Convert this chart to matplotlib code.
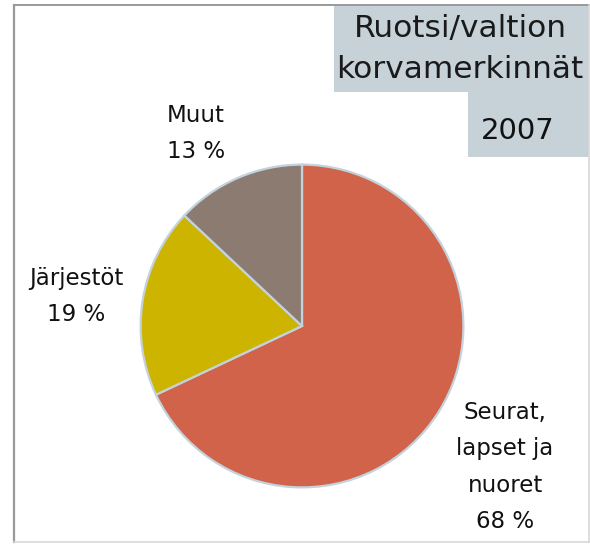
import matplotlib
matplotlib.use("Agg")
import matplotlib.pyplot as plt
from matplotlib.patches import Rectangle
from matplotlib.lines import Line2D

# data
categories = ["Seurat,\nlapset ja\nnuoret", "Järjestöt", "Muut"]
shares = [68, 19, 13]
colors = ["#d0634a", "#cdb400", "#8c7b71"]
title_lines = ["Ruotsi/valtion", "korvamerkinnät"]
year = "2007"

W, H = 590, 544
fig = plt.figure(figsize=(W / 100, H / 100), dpi=100)
fig.patch.set_facecolor("white")


def fx(x):
    return x / W


def fy(y):
    return 1 - y / H


def text_block(lines, x, y_first, step, **kw):
    # one text per line so that the line step is exact in pixels
    for i, line in enumerate(lines):
        fig.text(fx(x), fy(y_first + i * step), line, ha="center",
                 va="baseline", **kw)


# pie: centre (302, 326), radius 163 px
cx, cy, r = 302, 326, 163
ax = fig.add_axes([fx(cx - r), fy(cy + r), 2 * r / W, 2 * r / H])
ax.pie(shares, colors=colors, startangle=90, counterclock=False,
       wedgeprops=dict(edgecolor="#c3d2dc", linewidth=1.6))
ax.set_xlim(-1.01, 1.01)
ax.set_ylim(-1.01, 1.01)
ax.axis("off")

# labels (first-line baseline position in px)
label_pos = [(505, 419), (76, 285), (196, 122)]
for name, val, (x, y) in zip(categories, shares, label_pos):
    lines = name.split("\n") + [f"{val} %"]
    text_block(lines, x, y, 36.3, fontsize=16.5, color="#111111")

# title boxes
box_col = "#c6d1d8"
fig.add_artist(Rectangle((fx(334), fy(92)), fx(589) - fx(334), fy(5) - fy(92),
                         transform=fig.transFigure, facecolor=box_col,
                         edgecolor="none"))
fig.add_artist(Rectangle((fx(468), fy(157)), fx(589) - fx(468), fy(92) - fy(157),
                         transform=fig.transFigure, facecolor=box_col,
                         edgecolor="none"))
text_block(title_lines, 460, 37, 41, fontsize=22.5, color="#1a1a1a")
fig.text(fx(518), fy(139), year, ha="center", va="baseline",
         fontsize=21, color="#111111")

# frame
fig.add_artist(Line2D([fx(14), fx(14)], [fy(5), fy(542)],
                      transform=fig.transFigure, color="#999999", lw=1.6))
fig.add_artist(Line2D([fx(14), fx(589)], [fy(5), fy(5)],
                      transform=fig.transFigure, color="#999999", lw=1.4))
fig.add_artist(Line2D([fx(14), fx(589)], [fy(541.5), fy(541.5)],
                      transform=fig.transFigure, color="#d8d8d8", lw=1.2))
fig.add_artist(Line2D([fx(589), fx(589)], [fy(5), fy(542)],
                      transform=fig.transFigure, color="#d8d8d8", lw=1.2))

fig.savefig("out.png", dpi=100)
